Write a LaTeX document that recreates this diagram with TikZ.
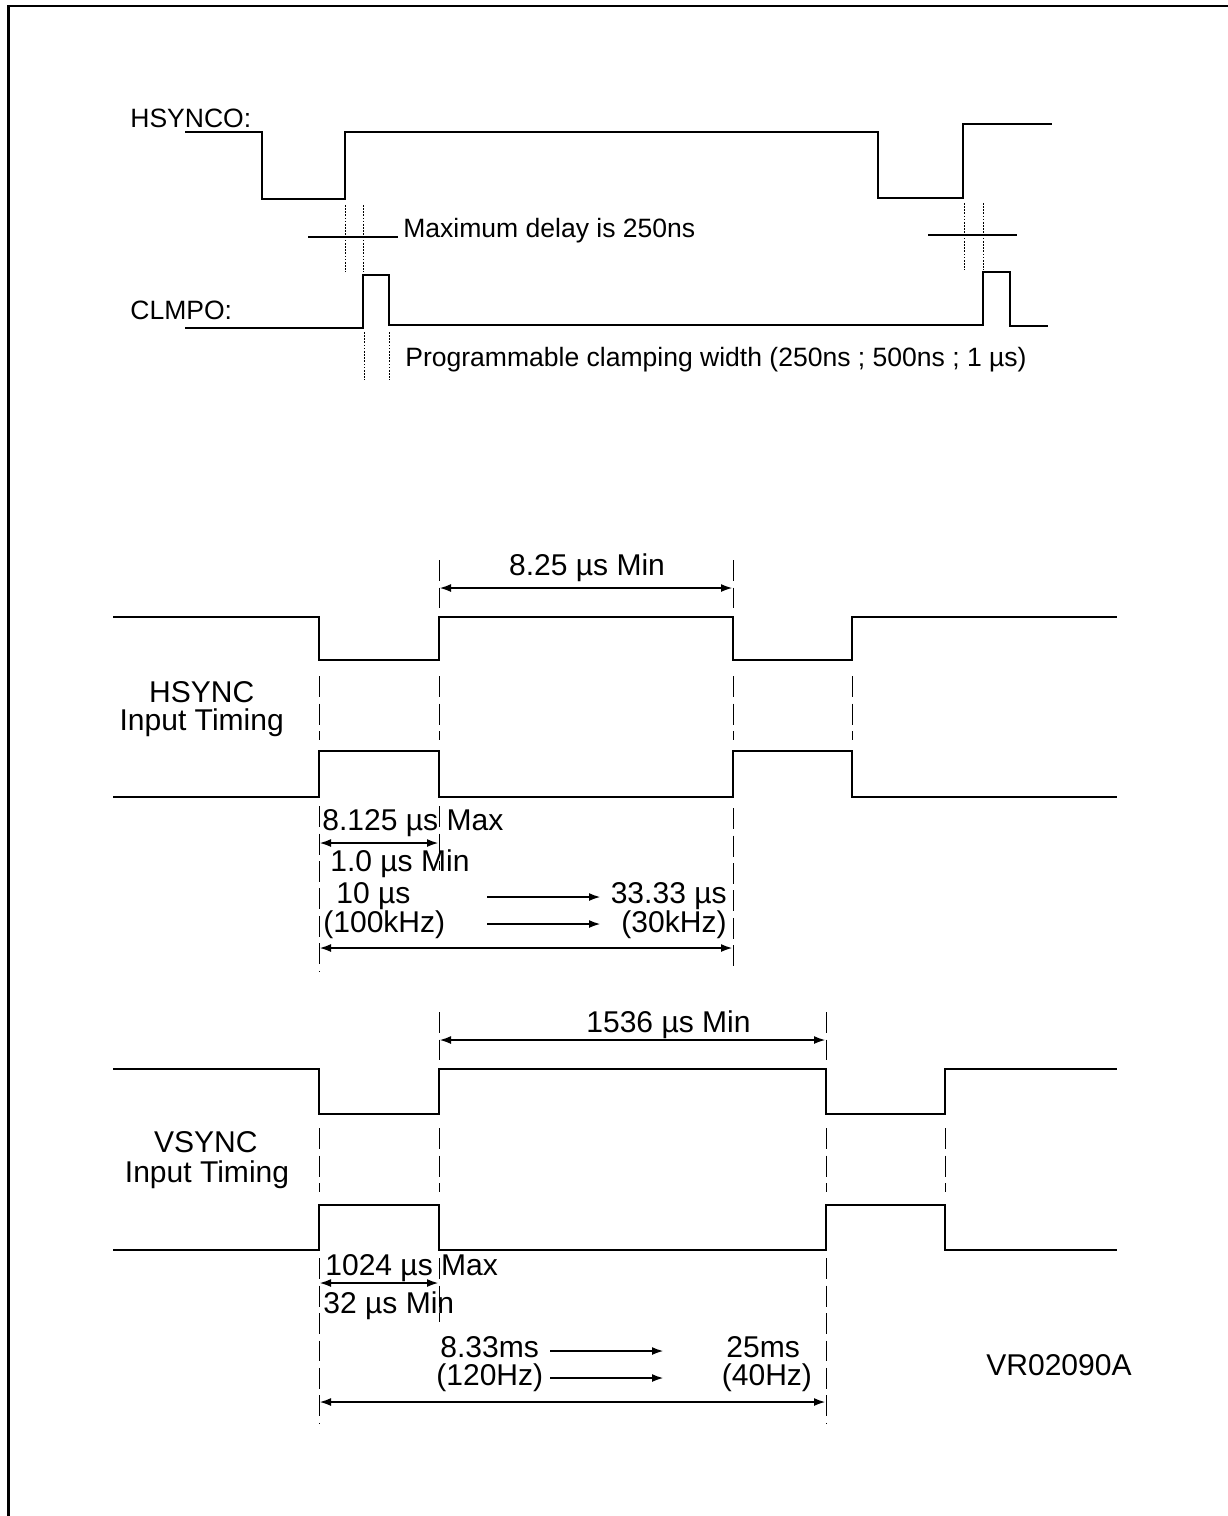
\documentclass[tikz,border=0pt]{standalone}
\usepackage{fontspec}
\setmainfont{Liberation Sans}
\usetikzlibrary{arrows.meta, positioning, calc}

\begin{document}
\begin{tikzpicture}[x=0.02cm, y=-0.02cm,
    wave/.style={line width=0.058cm, line join=miter},
    guide/.style={line width=0.55pt, dash pattern=on 0.42cm off 0.13cm},
    dotguide/.style={line width=0.55pt, dash pattern=on 0.9pt off 0.9pt},
    dim/.style={line width=0.045cm, {Latex[length=0.24cm,width=0.16cm]}-{Latex[length=0.24cm,width=0.16cm]}},
    fwd/.style={line width=0.045cm, -{Latex[length=0.24cm,width=0.16cm]}},
    small/.style={font=\fontsize{15.1}{18}\selectfont, inner sep=0pt},
    big/.style={font=\fontsize{17.1}{20}\selectfont, inner sep=0pt}]

    % Page and frame
    \useasboundingbox (0,0) rectangle (1228,1516);
    \draw[line width=0.056cm] (8.5,1516) -- (8.5,6) -- (1228,6);

    % HSYNCO output
    \node[small, anchor=base west] (hsynco) at (130,127) {HSYNCO:};
    \draw[wave] (185,132) -| (262,199) -| (345,132) -| (878,198) -| (963,124) -- (1052,124);

    % CLMPO output
    \node[small, anchor=base west] (clmpo) at (130,319.5) {CLMPO:};
    \draw[wave] (185,328) -| (363,275) -| (389,325) -| (983,272) -| (1010,326) -- (1048,326);

    % Delay marks
    \draw[wave] (308,237) -- (398,237);
    \draw[wave] (928,235) -- (1017,235);
    \foreach \x in {345,363} \draw[dotguide] (\x,205) -- (\x,272);
    \foreach \x in {964,983} \draw[dotguide] (\x,203) -- (\x,270);
    \foreach \x in {364,389} \draw[dotguide] (\x,332) -- (\x,380);
    \node[small, anchor=base west] (delay) at (403,237) {Maximum delay is 250ns};
    \node[small, anchor=base west] (clamp) at (405,366.5) {Programmable clamping width (250ns ; 500ns ; 1 µs)};

    % HSYNC input timing
    \draw[wave] (113,617) -| (319,660) -| (439,617) -| (733,660) -| (852,617) -- (1117,617);
    \draw[wave] (113,797) -| (319,751) -| (439,797) -| (733,751) -| (852,797) -- (1117,797);
    \foreach \x in {319,439,733,852} \draw[guide] (\x,676) -- (\x,740);
    \foreach \x in {439,733} \draw[guide] (\x,560) -- (\x,608);
    \draw[guide] (319,806) -- (319,972);
    \draw[guide] (439,806) -- (439,870);
    \draw[guide] (733,808) -- (733,972);
    \node[big, anchor=base] (hsync) at (201.7,702) {HSYNC};
    \node[big, anchor=base] (hsyncb) at (201.7,730) {Input Timing};

    % HSYNC dimensions
    \coordinate (hA) at (439,588);
    \coordinate (hB) at (733,588);
    \draw[dim] (hA) -- (hB);
    \node[big, anchor=base] (hmin) at (587,575.5) {8.25 µs Min};
    \coordinate (hC) at (319,843);
    \coordinate (hD) at (439,843);
    \draw[dim] (hC) -- (hD);
    \node[big, anchor=base west] (hmax) at (322,830) {8.125 µs Max};
    \node[big, anchor=base west] (hlow) at (330,871) {1.0 µs Min};
    \node[big, anchor=base west] (hper) at (336,903) {10 µs};
    \node[big, anchor=base west] (hfrq) at (323,932) {(100kHz)};
    \node[big, anchor=base east] (hper2) at (727,903) {33.33 µs};
    \node[big, anchor=base east] (hfrq2) at (727,932) {(30kHz)};
    \coordinate (hE) at (487,897);
    \coordinate (hF) at (601,897);
    \coordinate (hG) at (487,924);
    \coordinate (hH) at (601,924);
    \draw[fwd] (hE) -- (hF);
    \draw[fwd] (hG) -- (hH);
    \coordinate (hI) at (319,948);
    \coordinate (hJ) at (733,948);
    \draw[dim] (hI) -- (hJ);

    % VSYNC input timing
    \draw[wave] (113,1069) -| (319,1114) -| (439,1069) -| (826,1114) -| (945,1069) -- (1117,1069);
    \draw[wave] (113,1250) -| (319,1205) -| (439,1250) -| (826,1205) -| (945,1250) -- (1117,1250);
    \foreach \x in {319,439,826,945} \draw[guide] (\x,1128) -- (\x,1192);
    \foreach \x in {439,826} \draw[guide] (\x,1012) -- (\x,1060);
    \draw[guide] (319,1258) -- (319,1424);
    \draw[guide] (439,1258) -- (439,1322);
    \draw[guide] (826,1258) -- (826,1424);
    \node[big, anchor=base] (vsync) at (205.8,1152) {VSYNC};
    \node[big, anchor=base] (vsyncb) at (207,1182) {Input Timing};

    % VSYNC dimensions
    \coordinate (vA) at (439,1040);
    \coordinate (vB) at (826,1040);
    \draw[dim] (vA) -- (vB);
    \node[big, anchor=base] (vmin) at (668.5,1032) {1536 µs Min};
    \coordinate (vC) at (319,1283);
    \coordinate (vD) at (439,1283);
    \draw[dim] (vC) -- (vD);
    \node[big, anchor=base west] (vmax) at (325,1275.5) {1024 µs Max};
    \node[big, anchor=base west] (vlow) at (323,1313.5) {32 µs Min};
    \node[big, anchor=base west] (vper) at (440,1357.5) {8.33ms};
    \node[big, anchor=base west] (vfrq) at (436,1385.5) {(120Hz)};
    \node[big, anchor=base west] (vper2) at (726,1357.5) {25ms};
    \node[big, anchor=base west] (vfrq2) at (721.5,1385.5) {(40Hz)};
    \coordinate (vE) at (550,1351);
    \coordinate (vF) at (664,1351);
    \coordinate (vG) at (550,1378);
    \coordinate (vH) at (664,1378);
    \draw[fwd] (vE) -- (vF);
    \draw[fwd] (vG) -- (vH);
    \coordinate (vI) at (319,1402);
    \coordinate (vJ) at (826,1402);
    \draw[dim] (vI) -- (vJ);

    % Figure code
    \node[big, anchor=base west] (code) at (986,1375) {VR02090A};
\end{tikzpicture}
\end{document}
